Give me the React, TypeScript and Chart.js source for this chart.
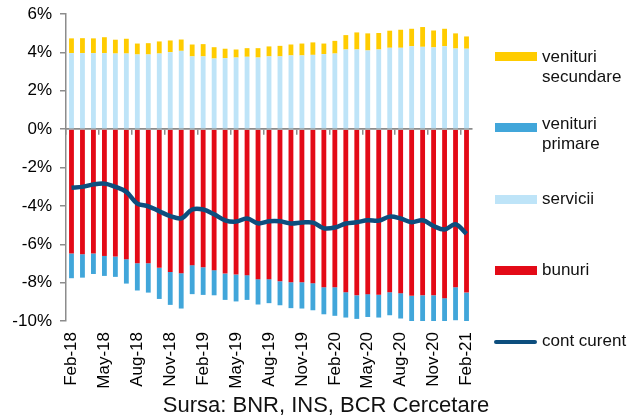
import React, { useEffect, useRef } from 'react';
import { Chart, registerables } from 'chart.js';

Chart.register(...registerables);

const categories = [
  'Feb-18', 'Mar-18', 'Apr-18', 'May-18', 'Jun-18', 'Jul-18', 'Aug-18', 'Sep-18', 'Oct-18', 'Nov-18', 'Dec-18',
  'Jan-19', 'Feb-19', 'Mar-19', 'Apr-19', 'May-19', 'Jun-19', 'Jul-19', 'Aug-19', 'Sep-19', 'Oct-19', 'Nov-19', 'Dec-19',
  'Jan-20', 'Feb-20', 'Mar-20', 'Apr-20', 'May-20', 'Jun-20', 'Jul-20', 'Aug-20', 'Sep-20', 'Oct-20', 'Nov-20', 'Dec-20',
  'Jan-21', 'Feb-21',
];

const servicii = [
  3.96, 3.96, 3.96, 3.96, 3.94, 3.94, 3.89, 3.89, 3.94, 4.01, 4.08,
  3.79, 3.79, 3.68, 3.70, 3.73, 3.77, 3.73, 3.79, 3.79, 3.84, 3.84, 3.87,
  3.91, 3.94, 4.15, 4.15, 4.10, 4.15, 4.24, 4.24, 4.32, 4.29, 4.26, 4.32,
  4.20, 4.19,
];

const venituriSecundare = [
  0.77, 0.78, 0.77, 0.83, 0.72, 0.77, 0.57, 0.59, 0.63, 0.61, 0.59,
  0.62, 0.64, 0.59, 0.49, 0.42, 0.45, 0.49, 0.52, 0.55, 0.57, 0.62, 0.65,
  0.55, 0.66, 0.75, 0.89, 0.89, 0.86, 0.89, 0.94, 0.91, 1.03, 0.88, 0.91,
  0.79, 0.64,
];

const bunuri = [
  -6.48, -6.52, -6.48, -6.61, -6.64, -6.78, -6.99, -6.99, -7.23, -7.44, -7.51,
  -7.09, -7.20, -7.35, -7.53, -7.58, -7.61, -7.82, -7.82, -7.93, -7.98, -7.98, -8.03,
  -8.24, -8.24, -8.50, -8.66, -8.60, -8.63, -8.50, -8.55, -8.69, -8.66, -8.66, -8.81,
  -8.24, -8.52,
];

const venituriPrimare = [
  -1.29, -1.22, -1.07, -1.04, -1.06, -1.27, -1.42, -1.53, -1.62, -1.72, -1.84,
  -1.51, -1.44, -1.31, -1.37, -1.40, -1.29, -1.32, -1.25, -1.25, -1.35, -1.37, -1.41,
  -1.41, -1.49, -1.32, -1.23, -1.19, -1.19, -1.20, -1.32, -1.39, -1.41, -1.53, -1.65,
  -1.72, -1.77,
];

const contCurent = [
  -3.05, -3.01, -2.88, -2.84, -3.01, -3.27, -3.88, -4.02, -4.28, -4.53, -4.65,
  -4.19, -4.19, -4.44, -4.75, -4.82, -4.66, -4.91, -4.80, -4.80, -4.92, -4.87, -4.87,
  -5.17, -5.13, -4.92, -4.85, -4.75, -4.77, -4.56, -4.66, -4.85, -4.75, -5.05, -5.23,
  -4.96, -5.46,
];

const yTicks = [-10, -8, -6, -4, -2, 0, 2, 4, 6];

const YELLOW = '#FFCC00';
const MIDBLUE = '#41A6DA';
const LIGHTBLUE = '#BEE4F8';
const RED = '#E30A17';
const NAVY = '#0D4E7E';
const GRAY = '#8C8C8C';
const FONT = "'Liberation Sans', Arial, sans-serif";

const legendItems = [
  { lines: ['venituri', 'secundare'], color: YELLOW, top: 47, swatchTop: 52, line: false },
  { lines: ['venituri', 'primare'], color: MIDBLUE, top: 114, swatchTop: 123, line: false },
  { lines: ['servicii'], color: LIGHTBLUE, top: 189, swatchTop: 195, line: false },
  { lines: ['bunuri'], color: RED, top: 260, swatchTop: 266, line: false },
  { lines: ['cont curent'], color: NAVY, top: 331, swatchTop: 340, line: true },
];

export default function App() {
  const ref = useRef<HTMLCanvasElement>(null);

  useEffect(() => {
    const tickFont = { family: FONT, size: 17 };
    const chart = new Chart(ref.current as HTMLCanvasElement, {
      type: 'bar',
      data: {
        labels: categories,
        datasets: [
          {
            type: 'line',
            label: 'cont curent',
            data: contCurent,
            borderColor: NAVY,
            backgroundColor: NAVY,
            borderWidth: 4.5,
            pointRadius: 0,
            tension: 0.35,
            stack: 'line',
            order: 0,
          } as any,
          { label: 'servicii', data: servicii, backgroundColor: LIGHTBLUE, stack: 'bars', order: 1 },
          { label: 'bunuri', data: bunuri, backgroundColor: RED, stack: 'bars', order: 1 },
          { label: 'venituri secundare', data: venituriSecundare, backgroundColor: YELLOW, stack: 'bars', order: 1 },
          { label: 'venituri primare', data: venituriPrimare, backgroundColor: MIDBLUE, stack: 'bars', order: 1 },
        ],
      },
      options: {
        animation: false,
        responsive: false,
        maintainAspectRatio: false,
        datasets: { bar: { barPercentage: 0.44, categoryPercentage: 1 } },
        layout: { padding: { top: 14, right: 157, left: 0, bottom: 0 } },
        plugins: { legend: { display: false }, tooltip: { enabled: false }, title: { display: false } },
        scales: {
          x: {
            stacked: true,
            offset: true,
            grid: { display: false, drawTicks: false },
            border: { display: false },
            ticks: {
              autoSkip: false,
              maxRotation: 90,
              minRotation: 90,
              padding: 11,
              color: '#000',
              font: tickFont,
              callback: (_v: any, i: number) => (i % 3 === 0 ? categories[i] : ''),
            },
            afterFit: (s: any) => { s.height = 95; s.paddingLeft = 0; s.paddingRight = 0; },
          },
          x2: {
            type: 'category',
            labels: categories,
            position: { y: 0 } as any,
            offset: true,
            grid: {
              offset: true,
              drawOnChartArea: false,
              drawTicks: true,
              tickLength: 5,
              lineWidth: 1.5,
              color: (ctx: any) => (ctx.index % 3 === 0 ? GRAY : 'rgba(0,0,0,0)'),
            },
            border: { display: true, color: GRAY, width: 1.8 },
            ticks: { display: false, autoSkip: false },
          },
          y: {
            stacked: true,
            min: yTicks[0],
            max: yTicks[yTicks.length - 1],
            afterBuildTicks: (s: any) => { s.ticks = yTicks.map((v) => ({ value: v })); },
            grid: { drawOnChartArea: false, drawTicks: true, tickLength: 6, color: GRAY, lineWidth: 1.5 },
            border: { display: true, color: GRAY, width: 1.5 },
            ticks: { padding: 8, color: '#000', font: tickFont, callback: (v: any) => `${v}%` },
            afterFit: (s: any) => { s.width = 66; s.paddingTop = 0; s.paddingBottom = 0; },
          },
        } as any,
      },
    });
    return () => chart.destroy();
  }, []);

  return (
    <div style={{ position: 'fixed', left: 0, top: 0, width: 629, height: 416, background: '#fff', overflow: 'hidden', fontFamily: FONT }}>
      <canvas ref={ref} width={629} height={416} style={{ position: 'absolute', left: 0, top: 0, width: 629, height: 416 }} />
      {legendItems.map((it) => (
        <React.Fragment key={it.lines.join(' ')}>
          <div
            style={{
              position: 'absolute',
              left: it.line ? 494 : 495,
              top: it.swatchTop,
              width: it.line ? 43 : 42,
              height: it.line ? 4 : 9,
              background: it.color,
              borderRadius: it.line ? 2 : 0,
            }}
          />
          <div
            style={{
              position: 'absolute',
              left: 542,
              top: it.top,
              fontSize: 17,
              lineHeight: '19.5px',
              color: '#111',
              whiteSpace: 'nowrap',
            }}
          >
            {it.lines.map((l) => (
              <div key={l}>{l}</div>
            ))}
          </div>
        </React.Fragment>
      ))}
      <div
        style={{
          position: 'absolute',
          left: 0,
          width: 652,
          top: 394,
          textAlign: 'center',
          fontSize: 22,
          lineHeight: '22px',
          color: '#111',
          whiteSpace: 'nowrap',
        }}
      >
        Sursa: BNR, INS, BCR Cercetare
      </div>
    </div>
  );
}
